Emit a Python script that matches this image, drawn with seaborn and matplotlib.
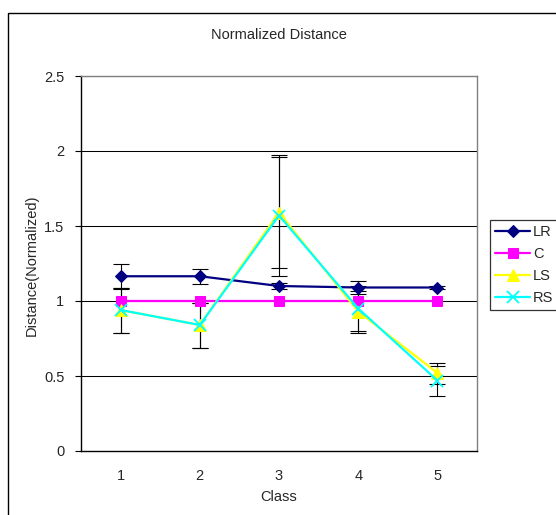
import matplotlib
matplotlib.use("Agg")
import matplotlib.pyplot as plt
from matplotlib.patches import Rectangle
import seaborn as sns

sns.set_style("white")
plt.rcParams["font.family"] = ["Liberation Sans", "DejaVu Sans"]

# Data: normalized distance per class for each condition, with error bar half-widths
classes = [1, 2, 3, 4, 5]
class_labels = ["1", "2", "3", "4", "5"]

lr_vals = [1.165, 1.165, 1.10, 1.09, 1.09]
lr_err = [0.085, 0.05, 0.02, 0.045, 0.012]

c_vals = [1.0, 1.0, 1.0, 1.0, 1.0]

ls_vals = [0.94, 0.84, 1.59, 0.93, 0.52]
ls_err = [0.15, 0.15, 0.37, 0.14, 0.07]

rs_vals = [0.94, 0.84, 1.57, 0.95, 0.47]
rs_err = [0.15, 0.15, 0.40, 0.15, 0.10]

y_ticks = [0, 0.5, 1, 1.5, 2, 2.5]
y_tick_labels = ["0", "0.5", "1", "1.5", "2", "2.5"]

fig = plt.figure(figsize=(5.56, 5.15), dpi=100)
ax = fig.add_axes([81 / 556, 1 - 451 / 515, 396 / 556, 375 / 515])

# horizontal grid
for yv in y_ticks[1:]:
    ax.axhline(yv, color="black", lw=0.75, zorder=1)

err_kw = dict(fmt="none", ecolor="black", elinewidth=0.8, capsize=5.5, capthick=0.8, zorder=2)
ax.errorbar(classes, lr_vals, yerr=lr_err, **err_kw)
ax.errorbar(classes, ls_vals, yerr=ls_err, **err_kw)
ax.errorbar(classes, rs_vals, yerr=rs_err, **err_kw)

sns.lineplot(x=classes, y=lr_vals, ax=ax, color="#000080", marker="D", markersize=6.2,
             markeredgecolor="#000080", linewidth=1.6, label="LR", zorder=3)
sns.lineplot(x=classes, y=c_vals, ax=ax, color="#FF00FF", marker="s", markersize=6.8,
             markeredgecolor="#FF00FF", linewidth=1.6, label="C", zorder=3)
sns.lineplot(x=classes, y=ls_vals, ax=ax, color="#FFFF00", marker="^", markersize=8,
             markeredgecolor="#FFFF00", linewidth=1.6, label="LS", zorder=3)
sns.lineplot(x=classes, y=rs_vals, ax=ax, color="#00FFFF", marker="x", markersize=8,
             markeredgewidth=1.3, markeredgecolor="#00FFFF", linewidth=1.6, label="RS", zorder=3)

ax.set_xlim(0.5, 5.5)
ax.set_ylim(0, 2.5)
ax.set_xticks(classes)
ax.set_xticklabels(class_labels)
ax.set_xticks([1.5, 2.5, 3.5, 4.5, 5.5], minor=True)
ax.tick_params(axis="x", which="major", length=0, pad=13, labelsize=10.5)
ax.tick_params(axis="x", which="minor", length=4, width=0.8, direction="in", color="black")
ax.set_yticks(y_ticks)
ax.set_yticklabels(y_tick_labels)
ax.tick_params(axis="y", which="major", length=4, width=0.8, direction="out", pad=8,
               labelsize=10.5, color="black", left=True)
ax.set_xlabel("")
ax.set_ylabel("")

for side in ["top", "right"]:
    ax.spines[side].set_color("#808080")
    ax.spines[side].set_linewidth(1.0)
for side in ["left", "bottom"]:
    ax.spines[side].set_color("black")
    ax.spines[side].set_linewidth(1.0)
for sp in ax.spines.values():
    sp.set_zorder(4)

fig.text(279 / 556, 1 - 35 / 515, "Normalized Distance", ha="center", va="center", fontsize=10.5)
fig.text(279 / 556, 1 - 497 / 515, "Class", ha="center", va="center", fontsize=10.5)
fig.text(32 / 556, 1 - 265 / 515, "Distance(Normalized)", ha="center", va="center",
         rotation=90, fontsize=10.5)

leg = ax.legend(loc="upper left", bbox_to_anchor=(490 / 556, 1 - 220 / 515),
                bbox_transform=fig.transFigure, frameon=True, fancybox=False,
                edgecolor="black", fontsize=10.5, handlelength=2.4, handletextpad=0.2,
                labelspacing=0.55, borderpad=0.35, borderaxespad=0)
leg.get_frame().set_linewidth(0.9)

# outer chart frame
fig.add_artist(Rectangle((8 / 556, -0.1), 2, 1 - 13 / 515 + 0.1, transform=fig.transFigure,
                         fill=False, edgecolor="black", linewidth=1.0))

fig.savefig("out.png", dpi=100)
